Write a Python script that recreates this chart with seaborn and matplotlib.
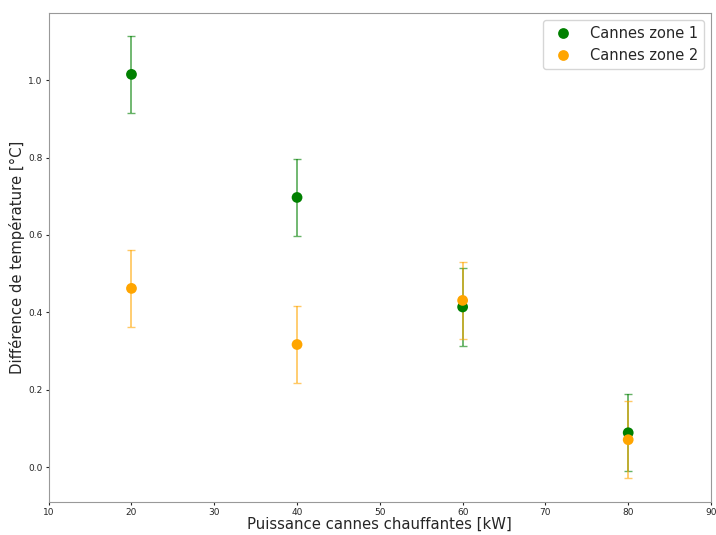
import numpy as np
import pandas as pd
import matplotlib
matplotlib.use("Agg")
import matplotlib.pyplot as plt
import seaborn as sns

# Data
puissance = [20, 40, 60, 80]
zone1 = [1.015, 0.697, 0.414, 0.089]
zone2 = [0.462, 0.317, 0.431, 0.071]
err1 = [0.1, 0.1, 0.1, 0.1]
err2 = [0.1, 0.1, 0.1, 0.1]
labels = ["Cannes zone 1", "Cannes zone 2"]
colors = ["green", "orange"]

df = pd.DataFrame({
    "Puissance": puissance * 2,
    "Delta": zone1 + zone2,
    "Err": err1 + err2,
    "Serie": [labels[0]] * 4 + [labels[1]] * 4,
})

sns.set_style("white")
plt.rcParams["font.family"] = ["DejaVu Sans"]

fig, ax = plt.subplots(figsize=(7.16, 5.35), dpi=100)
fig.subplots_adjust(left=0.068, right=0.993, top=0.976, bottom=0.062)

# error bars
for lab, col in zip(labels, colors):
    sub = df[df["Serie"] == lab]
    ax.errorbar(sub["Puissance"], sub["Delta"], yerr=sub["Err"], fmt="none",
                ecolor=col, alpha=0.6, capsize=3, elinewidth=1.3, zorder=1)

sns.scatterplot(data=df, x="Puissance", y="Delta", hue="Serie",
                palette=dict(zip(labels, colors)), s=60, edgecolor="none",
                ax=ax, zorder=2)

ax.set_xlim(10, 90)
ax.set_ylim(-0.0895, 1.174)
ax.set_xticks(np.arange(10, 91, 10))
ax.set_yticks([0.0, 0.2, 0.4, 0.6, 0.8, 1.0])
ax.tick_params(axis="both", labelsize=6.5, length=2.5, pad=2,
               left=True, bottom=True)
for sp in ax.spines.values():
    sp.set_color("#999999")

ax.set_xlabel("Puissance cannes chauffantes [kW]", fontsize=10.7, labelpad=0)
ax.set_ylabel("Différence de température [°C]", fontsize=10.7, labelpad=2)

ax.legend(title=None, fontsize=10.5, loc="upper right", frameon=True)

plt.savefig("out.png", dpi=100)
